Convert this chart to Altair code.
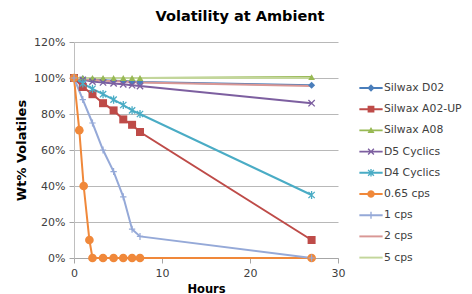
import math
import altair as alt
import pandas as pd

# ---------------- data ----------------
hours = [0, 1, 2.1, 3.3, 4.5, 5.6, 6.6, 7.5, 27]
hours_065 = [0, 0.6, 1.1, 1.75, 2.1, 3.3, 4.5, 5.6, 6.6, 7.5, 27]

silwax_d02 = [100, 99.5, 99, 98.8, 98.5, 98.3, 98, 97.8, 96]
silwax_a02 = [100, 95, 91, 86, 82, 77, 74, 70, 10]
silwax_a08 = [100, 100, 100, 100, 100, 100, 100, 100, 100.5]
d5_cyclics = [100, 99, 98, 97.5, 97, 96.5, 96, 95.5, 86]
d4_cyclics = [100, 97, 94, 91, 88, 85, 82, 80, 35]
cps_065 = [100, 71, 40, 10, 0, 0, 0, 0, 0, 0, 0]
cps_1 = [100, 88, 75, 60, 48, 34, 16, 12, 0]
cps_2 = [100, 99.5, 99, 98.5, 98.3, 98, 97.8, 97.5, 95.5]
cps_5 = [100, 100, 100, 100, 100, 100, 100, 100, 100]

series_names = ["Silwax D02", "Silwax A02-UP", "Silwax A08", "D5 Cyclics",
                "D4 Cyclics", "0.65 cps", "1 cps", "2 cps", "5 cps"]
series_values = [silwax_d02, silwax_a02, silwax_a08, d5_cyclics, d4_cyclics,
                 cps_065, cps_1, cps_2, cps_5]
series_colors = ["#4a7ebb", "#be4b48", "#98b954", "#7d5fa0", "#4aacc5",
                 "#f0883a", "#95a9d8", "#d99795", "#c3d69b"]

rows = []
for name, vals in zip(series_names, series_values):
    hs = hours_065 if name == "0.65 cps" else hours
    for h, v in zip(hs, vals):
        rows.append({"series": name, "hours": h, "pct": v})
df = pd.DataFrame(rows)

# ---------------- legend symbol paths (fill-only) ----------------
def poly(pts):
    n = len(pts)
    area = sum(pts[i][0] * pts[(i + 1) % n][1] - pts[(i + 1) % n][0] * pts[i][1] for i in range(n))
    if area < 0:
        pts = pts[::-1]
    return "M" + "L".join(f"{x:.3f},{y:.3f}" for x, y in pts) + "Z"

def seg(x1, y1, x2, y2, w):
    dx, dy = x2 - x1, y2 - y1
    L = math.hypot(dx, dy)
    nx, ny = -dy / L * w, dx / L * w
    return poly([(x1 + nx, y1 + ny), (x2 + nx, y2 + ny), (x2 - nx, y2 - ny), (x1 - nx, y1 - ny)])

def circ(r, k=20):
    return poly([(r * math.cos(2 * math.pi * i / k), r * math.sin(2 * math.pi * i / k)) for i in range(k)])

LINE = seg(-1.2, 0, 1.2, 0, 0.1)
legend_paths = [
    LINE + poly([(0, -0.38), (0.38, 0), (0, 0.38), (-0.38, 0)]),
    LINE + poly([(-0.35, -0.35), (0.35, -0.35), (0.35, 0.35), (-0.35, 0.35)]),
    LINE + poly([(0, -0.36), (0.36, 0.28), (-0.36, 0.28)]),
    LINE + seg(-0.3, -0.3, 0.3, 0.3, 0.07) + seg(-0.3, 0.3, 0.3, -0.3, 0.07),
    LINE + seg(-0.3, -0.3, 0.3, 0.3, 0.07) + seg(-0.3, 0.3, 0.3, -0.3, 0.07) + seg(0, -0.38, 0, 0.38, 0.07),
    LINE + circ(0.38),
    LINE + seg(0, -0.36, 0, 0.36, 0.07),
    LINE,
    LINE,
]

XMARK = "M-1,-1L1,1M-1,1L1,-1"
ASTER = "M-1,-1L1,1M-1,1L1,-1M0,-1.3L0,1.3"
PLUS = "M-1,0L1,0M0,-1.1L0,1.1"

marker_specs = [
    ("Silwax D02", "diamond", True, 50, 1),
    ("Silwax A02-UP", "square", True, 64, 1),
    ("Silwax A08", "triangle-up", True, 45, 1),
    ("D5 Cyclics", XMARK, False, 40, 1.3),
    ("D4 Cyclics", ASTER, False, 40, 1.3),
    ("0.65 cps", "circle", True, 75, 1),
    ("1 cps", PLUS, False, 40, 1.2),
]

# ---------------- encodings ----------------
cscale = alt.Scale(domain=series_names, range=series_colors)

x_enc = alt.X("hours:Q", scale=alt.Scale(domain=[0, 30], nice=False, padding=0),
              axis=alt.Axis(values=[0, 10, 20, 30], title="Hours", grid=False, labelFlush=False,
                            titleX=132, titleY=31, titleBaseline="middle"))
y_enc = alt.Y("pct:Q", scale=alt.Scale(domain=[0, 120], nice=False, padding=0),
              axis=alt.Axis(values=[0, 20, 40, 60, 80, 100, 120],
                            labelExpr="datum.value + '%'", title="Wt% Volatiles",
                            grid=True, titleX=-53, titleY=108, titleAngle=270,
                            titleAlign="center", titleBaseline="middle",
                            titleFontSize=13, domainColor="#bfbfbf"))

base = alt.Chart(df)

leg = alt.Legend(title=None, orient="none", legendX=287, legendY=36,
                 symbolSize=376, labelOffset=3, rowPadding=6.2,
                 labelFont="DejaVu Sans", labelFontSize=10.8, labelColor="#404040",
                 symbolStrokeWidth=0, symbolOpacity=1, padding=0, labelLimit=0)

# legend-only layer first so its legend settings win the merge
legend_layer = base.mark_point(filled=True, opacity=0).encode(
    x=x_enc, y=y_enc,
    color=alt.Color("series:N", scale=cscale, legend=leg),
    shape=alt.Shape("series:N", scale=alt.Scale(domain=series_names, range=legend_paths), legend=leg),
)

lines = base.mark_line(strokeWidth=2).encode(
    x=x_enc, y=y_enc, color=alt.Color("series:N", scale=cscale),
    order=alt.Order("hours:Q"))

marker_layers = []
for name, shape, filled, size, sw in marker_specs:
    marker_layers.append(
        base.transform_filter(alt.datum.series == name)
        .mark_point(shape=shape, filled=filled, size=size, opacity=1, strokeWidth=sw)
        .encode(x=x_enc, y=y_enc, color=alt.Color("series:N", scale=cscale))
    )

chart = alt.layer(legend_layer, lines, *marker_layers).properties(
    width=264, height=216,
    title=alt.TitleParams("Volatility at Ambient", font="DejaVu Sans", fontSize=14.5,
                          fontWeight="bold", color="#000000", anchor="middle",
                          frame="group", dx=34, offset=12),
    autosize=alt.AutoSizeParams(type="none"),
    padding={"left": 66, "top": 34, "right": 126, "bottom": 36},
).configure_view(stroke=None).configure_axis(
    labelFont="DejaVu Sans", labelFontSize=11, labelColor="#404040",
    titleFont="DejaVu Sans", titleFontSize=11.5, titleFontWeight="bold", titleColor="#000000",
    domainColor="#a6a6a6", tickColor="#a6a6a6", tickSize=5, labelPadding=4,
    gridColor="#b8b8b8", gridWidth=1,
)

chart.save("out.html", embed_options={"renderer": "svg", "actions": False})
